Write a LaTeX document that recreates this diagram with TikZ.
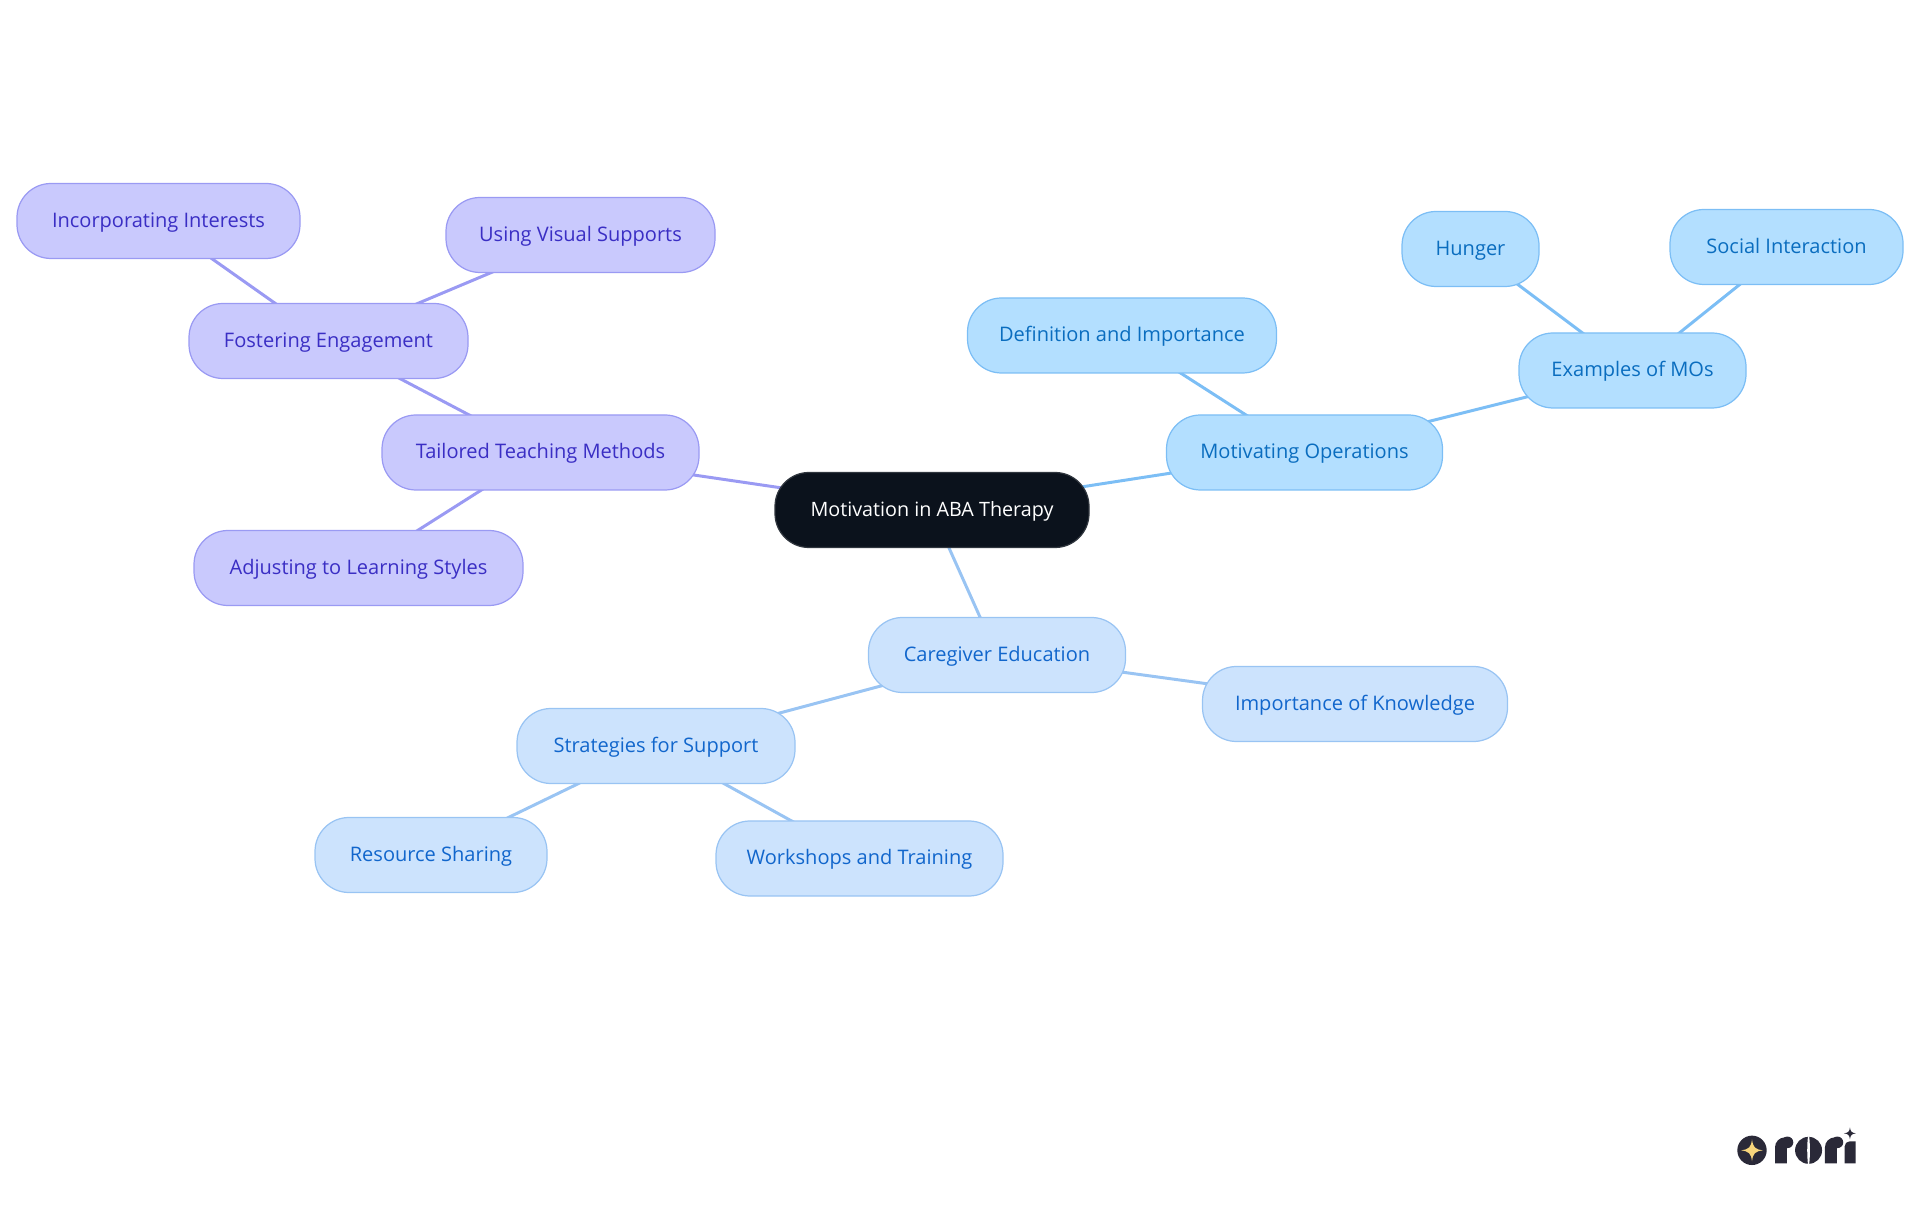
\documentclass[tikz,border=0pt]{standalone}
\usepackage{fontspec}
\setmainfont{Open Sans}
\usetikzlibrary{backgrounds}
\definecolor{rootfill}{HTML}{0B121C}
\definecolor{purplefill}{HTML}{C9C9FD}
\definecolor{purpledraw}{HTML}{9A9AF3}
\definecolor{purpletext}{HTML}{3A2EC4}
\definecolor{skyfill}{HTML}{B3DFFF}
\definecolor{skydraw}{HTML}{7CBEF5}
\definecolor{skytext}{HTML}{0A6DBF}
\definecolor{bluefill}{HTML}{CCE3FD}
\definecolor{bluedraw}{HTML}{99C4F3}
\definecolor{bluetext}{HTML}{1166CC}
\definecolor{logodark}{HTML}{2A2938}
\definecolor{logostar}{HTML}{F8D67C}
\tikzset{
  mapnode/.style={rounded corners=.34cm, minimum height=.75cm, inner sep=0pt, line width=.35pt, text height=1.7mm, text depth=.46mm, font=\fontsize{5.7}{7}\selectfont},
  rootnode/.style={mapnode, fill=rootfill, draw=rootfill!85!white, text=white, font=\fontsize{5.62}{7}\selectfont},
  purplenode/.style={mapnode, fill=purplefill, draw=purpledraw, text=purpletext},
  skynode/.style={mapnode, fill=skyfill, draw=skydraw, text=skytext},
  bluenode/.style={mapnode, fill=bluefill, draw=bluedraw, text=bluetext},
  purpleedge/.style={draw=purpledraw, line width=.85pt},
  skyedge/.style={draw=skydraw, line width=.85pt},
  blueedge/.style={draw=bluedraw, line width=.85pt},
}
\begin{document}
\begin{tikzpicture}
  \useasboundingbox (0, 0) rectangle (19.2, 12.15);

  \node[rootnode, minimum width=3.14cm] (root) at (9.32, 7.05) {Motivation in ABA Therapy};

  \node[skynode, minimum width=2.76cm] (motivating) at (13.045, 7.625) {Motivating Operations};
  \node[skynode, minimum width=3.09cm] (definition) at (11.22, 8.795) {Definition and Importance};
  \node[skynode, minimum width=2.27cm] (examples) at (16.325, 8.445) {Examples of MOs};
  \node[skynode, minimum width=1.37cm] (hunger) at (14.705, 9.66) {Hunger};
  \node[skynode, minimum width=2.33cm] (social) at (17.865, 9.68) {Social Interaction};

  \node[bluenode, minimum width=2.57cm] (caregiver) at (9.97, 5.60) {Caregiver Education};
  \node[bluenode, minimum width=3.05cm] (knowledge) at (13.55, 5.11) {Importance of Knowledge};
  \node[bluenode, minimum width=2.78cm] (strategies) at (6.56, 4.69) {Strategies for Support};
  \node[bluenode, minimum width=2.32cm] (resource) at (4.31, 3.60) {Resource Sharing};
  \node[bluenode, minimum width=2.87cm] (workshops) at (8.595, 3.565) {Workshops and Training};

  \node[purplenode, minimum width=3.17cm] (tailored) at (5.405, 7.625) {Tailored Teaching Methods};
  \node[purplenode, minimum width=2.79cm] (fostering) at (3.285, 8.74) {Fostering Engagement};
  \node[purplenode, minimum width=2.69cm] (visual) at (5.805, 9.80) {Using Visual Supports};
  \node[purplenode, minimum width=2.83cm] (interests) at (1.585, 9.94) {Incorporating Interests};
  \node[purplenode, minimum width=3.29cm] (adjusting) at (3.585, 6.47) {Adjusting to Learning Styles};

  \begin{scope}[on background layer]
    \path[skyedge] (root.center) -- (motivating.center);
    \path[skyedge] (motivating.center) -- (definition.center);
    \path[skyedge] (motivating.center) -- (examples.center);
    \path[skyedge] (examples.center) -- (hunger.center);
    \path[skyedge] (examples.center) -- (social.center);
    \path[blueedge] (root.center) -- (caregiver.center);
    \path[blueedge] (caregiver.center) -- (knowledge.center);
    \path[blueedge] (caregiver.center) -- (strategies.center);
    \path[blueedge] (strategies.center) -- (resource.center);
    \path[blueedge] (strategies.center) -- (workshops.center);
    \path[purpleedge] (root.center) -- (tailored.center);
    \path[purpleedge] (tailored.center) -- (fostering.center);
    \path[purpleedge] (tailored.center) -- (adjusting.center);
    \path[purpleedge] (fostering.center) -- (visual.center);
    \path[purpleedge] (fostering.center) -- (interests.center);
  \end{scope}

  % logo, in pixels of the page
  \begin{scope}[x=.01cm, y=-.01cm, shift={(0cm, 12.15cm)}]
    \fill[logodark] (1753, 1151) circle (14.7);
    \fill[logostar] (1753, 1140) .. controls (1754, 1148) and (1756, 1150) .. (1764, 1151)
      .. controls (1756, 1152) and (1754, 1154) .. (1753, 1162)
      .. controls (1752, 1154) and (1750, 1152) .. (1742, 1151)
      .. controls (1750, 1150) and (1752, 1148) .. (1753, 1140) -- cycle;
    \fill[logodark] (1776, 1164) -- (1776, 1148) arc[start angle=180, end angle=270, radius=10] -- (1788, 1138) -- (1788, 1164) -- cycle;
    \fill[logodark] (1788.5, 1143) circle (5.8);
    \fill[logodark] (1809.6, 1151) circle (13.5);
    \fill[white] (1809, 1137) .. controls (1808, 1146) and (1808, 1156) .. (1809, 1165) -- (1810.2, 1165) .. controls (1811.2, 1156) and (1811.2, 1146) .. (1810.2, 1137) -- cycle;
    \fill[logodark] (1826, 1164) -- (1826, 1148) arc[start angle=180, end angle=270, radius=10] -- (1838, 1138) -- (1838, 1164) -- cycle;
    \fill[logodark] (1838.5, 1143) circle (5.8);
    \fill[logodark] (1845.7, 1164) -- (1845.7, 1147) arc[start angle=180, end angle=270, radius=5] -- (1856.7, 1142) -- (1856.7, 1164) -- cycle;
    \fill[logodark] (1851, 1128) .. controls (1851.5, 1132) and (1852.5, 1133.5) .. (1857, 1134)
      .. controls (1852.5, 1134.5) and (1851.5, 1136) .. (1851, 1140)
      .. controls (1850.5, 1136) and (1849.5, 1134.5) .. (1845, 1134)
      .. controls (1849.5, 1133.5) and (1850.5, 1132) .. (1851, 1128) -- cycle;
  \end{scope}
\end{tikzpicture}
\end{document}
